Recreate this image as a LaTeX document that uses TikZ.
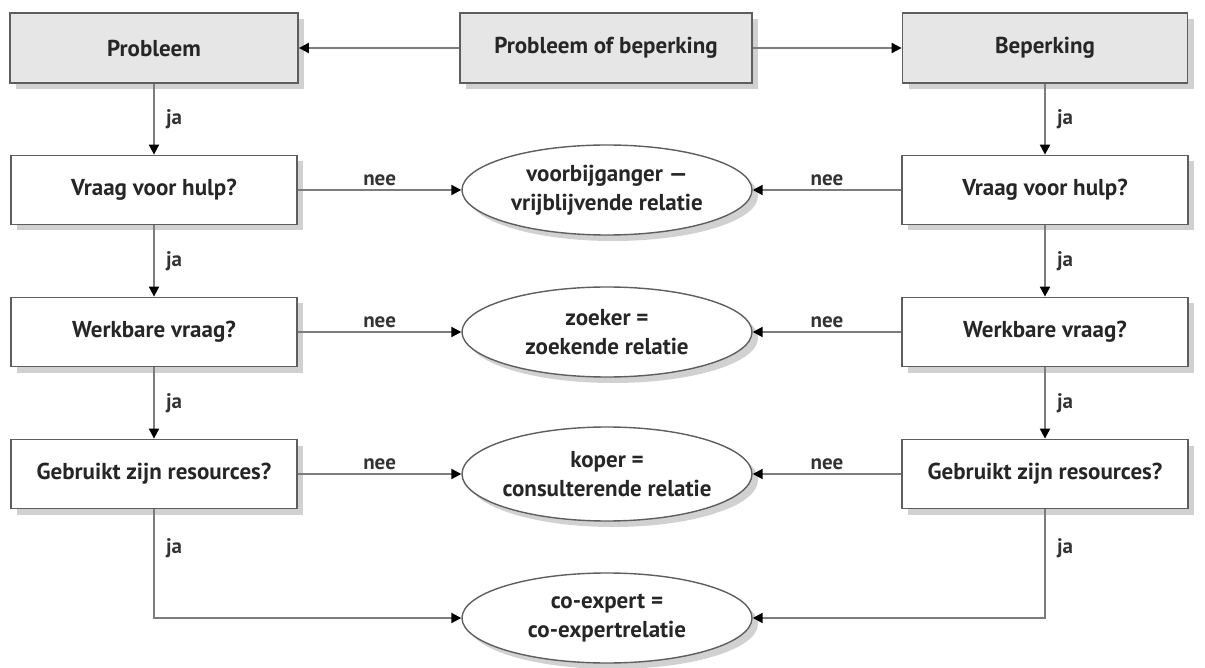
\documentclass[tikz,border=0pt]{standalone}
\usepackage{fontspec}
\setmainfont{PT Sans}
\usetikzlibrary{arrows.meta,shapes.geometric,shadows}
\definecolor{boxline}{HTML}{5E5E5E}
\definecolor{conline}{HTML}{7C7C7C}
\definecolor{topfill}{HTML}{E6E6E6}
\definecolor{txt}{HTML}{262626}
\tikzset{
  shadowed/.style={drop shadow={shadow xshift=6pt,shadow yshift=-6pt,opacity=0.3,fill=black!60}},
  qbox/.style={draw=boxline,line width=1.8pt,fill=white,minimum width=286pt,minimum height=69pt,
    font=\bfseries\fontsize{23}{26}\selectfont,text=txt,shadowed,align=center},
  topbox/.style={qbox,fill=topfill},
  relnode/.style={ellipse,draw=boxline,line width=1.4pt,fill=white,minimum width=290pt,minimum height=90pt,
    inner sep=0pt,shadowed},
  reltext/.style={font=\bfseries\fontsize{23}{29}\selectfont,text=txt,align=center,inner sep=0pt},
  conn/.style={draw=conline,line width=2pt,
    arrows={-{Triangle[length=10pt,width=10pt,color=black]}}},
  lbl/.style={font=\bfseries\fontsize{21}{24}\selectfont,text=black!80,inner sep=1pt}
}
\begin{document}
\begin{tikzpicture}[x=1pt,y=-1pt]
\useasboundingbox (0,0) rectangle (1205,668);
% top row
\node[topbox,minimum width=288pt,minimum height=70pt] (prob) at (154,48) {Probleem};
\node[topbox,minimum width=292pt,minimum height=70pt] (mid) at (606,48) {Probleem of beperking};
\node[topbox,minimum width=285pt,minimum height=70pt] (bep) at (1045,48) {Beperking};
% left column
\node[qbox] (l2) at (154,190) {Vraag voor hulp?};
\node[qbox] (l3) at (154,332) {Werkbare vraag?};
\node[qbox] (l4) at (154,474) {Gebruikt zijn resources?};
% right column
\node[qbox] (r2) at (1045,190) {Vraag voor hulp?};
\node[qbox] (r3) at (1045,332) {Werkbare vraag?};
\node[qbox] (r4) at (1045,474) {Gebruikt zijn resources?};
% relations
\node[relnode] (e1) at (607,190) {};
\node[reltext] (t1) at (e1.center) {voorbijganger —\\vrijblijvende relatie};
\node[relnode] (e2) at (607,332) {};
\node[reltext] (t2) at (e2.center) {zoeker =\\zoekende relatie};
\node[relnode,minimum height=94pt] (e3) at (607,474) {};
\node[reltext] (t3) at (e3.center) {koper =\\consulterende relatie};
\node[relnode] (e4) at (607,618) {};
\node[reltext] (t4) at (e4.center) {co-expert =\\co-expertrelatie};
% connectors top
\draw[conn] (mid.west) -- (prob.east);
\draw[conn] (mid.east) -- (bep.west);
% left verticals
\draw[conn] (prob.south) -- node[lbl,right=10pt,pos=0.5] {ja} (l2.north);
\draw[conn] (l2.south) -- node[lbl,right=10pt,pos=0.5] {ja} (l3.north);
\draw[conn] (l3.south) -- node[lbl,right=10pt,pos=0.5] {ja} (l4.north);
% right verticals
\draw[conn] (bep.south) -- node[lbl,right=10pt,pos=0.5] {ja} (r2.north);
\draw[conn] (r2.south) -- node[lbl,right=10pt,pos=0.5] {ja} (r3.north);
\draw[conn] (r3.south) -- node[lbl,right=10pt,pos=0.5] {ja} (r4.north);
% nee connectors
\draw[conn] (l2.east) -- node[lbl,above=2pt,pos=0.5] {nee} (e1.west);
\draw[conn] (l3.east) -- node[lbl,above=2pt,pos=0.5] {nee} (e2.west);
\draw[conn] (l4.east) -- node[lbl,above=2pt,pos=0.5] {nee} (e3.west);
\draw[conn] (r2.west) -- node[lbl,above=2pt,pos=0.5] {nee} (e1.east);
\draw[conn] (r3.west) -- node[lbl,above=2pt,pos=0.5] {nee} (e2.east);
\draw[conn] (r4.west) -- node[lbl,above=2pt,pos=0.5] {nee} (e3.east);
% bottom
\draw[conn] (l4.south) |- node[lbl,right=10pt,pos=0.18] {ja} (e4.west);
\draw[conn] (r4.south) |- node[lbl,right=10pt,pos=0.18] {ja} (e4.east);
\end{tikzpicture}
\end{document}
